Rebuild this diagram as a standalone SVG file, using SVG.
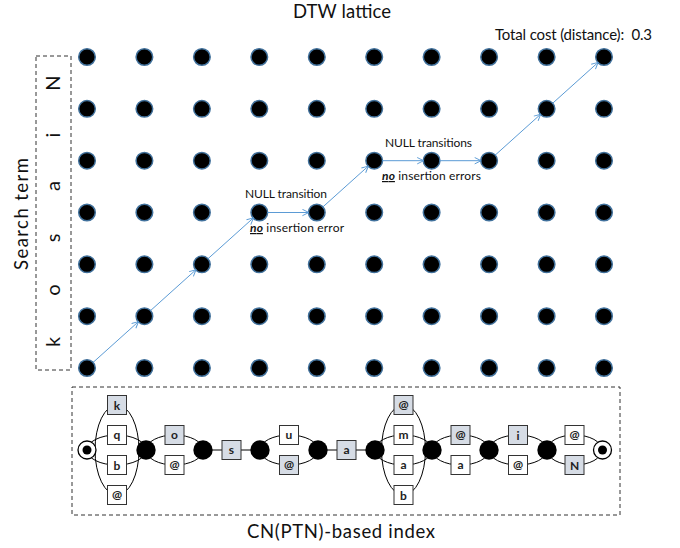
<svg xmlns="http://www.w3.org/2000/svg" width="680" height="548" viewBox="0 0 680 548">
<defs>
<style>
text{font-family:Lato,"Open Sans","Liberation Sans",sans-serif;fill:#111}
.dot{fill:#000;stroke:#41719c;stroke-width:1.5}
.path{stroke:#5b9bd5;stroke-width:1;fill:none;marker-end:url(#arr)}
.dash{fill:none;stroke:#333;stroke-width:1;stroke-dasharray:4,3}
.arc{fill:none;stroke:#000;stroke-width:1}
.bx{fill:#fff;stroke:#333;stroke-width:1}
.hl{fill:#d6dce5;stroke:#333;stroke-width:1}
.bt{font-size:12px;font-weight:bold;text-anchor:middle;fill:#222}
.nd{fill:#000}
.lbl{font-size:12px}
.big{font-size:18.5px;text-anchor:middle}
.let{font-size:20px;text-anchor:middle}
.no{font-weight:bold;font-style:italic;text-decoration:underline}
</style>
<marker id="arr" viewBox="0 0 10 10" refX="9" refY="5" markerWidth="8" markerHeight="8" orient="auto" markerUnits="userSpaceOnUse">
<path d="M1,1 L9,5 L1,9" fill="none" stroke="#5b9bd5" stroke-width="1.2"/>
</marker>
</defs>
<rect width="680" height="548" fill="#fff"/>

<text class="big" x="342" y="18" textLength="98">DTW lattice</text>
<text x="495" y="40" font-size="15" textLength="157" style="white-space:pre">Total cost (distance):  0.3</text>
<text class="big" x="341" y="538" textLength="188">CN(PTN)-based index</text>

<g id="search-term">
<rect class="dash" x="36" y="56" width="35" height="314"/>
<text class="big" transform="translate(28,214) rotate(-90)" textLength="112">Search term</text>
<text class="let" transform="translate(60,342) rotate(-90)">k</text>
<text class="let" transform="translate(60,290) rotate(-90)">o</text>
<text class="let" transform="translate(60,238) rotate(-90)">s</text>
<text class="let" transform="translate(60,186) rotate(-90)">a</text>
<text class="let" transform="translate(60,135) rotate(-90)">i</text>
<text class="let" transform="translate(60,83) rotate(-90)">N</text>
</g>

<g id="lattice">
<g id="row1"><circle class="dot" cx="87" cy="57" r="8.3"/><circle class="dot" cx="144.4" cy="57" r="8.3"/><circle class="dot" cx="201.9" cy="57" r="8.3"/><circle class="dot" cx="259.3" cy="57" r="8.3"/><circle class="dot" cx="316.8" cy="57" r="8.3"/><circle class="dot" cx="374.2" cy="57" r="8.3"/><circle class="dot" cx="431.6" cy="57" r="8.3"/><circle class="dot" cx="489.1" cy="57" r="8.3"/><circle class="dot" cx="546.6" cy="57" r="8.3"/><circle class="dot" cx="604" cy="57" r="8.3"/></g>
<g id="row2"><circle class="dot" cx="87" cy="108.8" r="8.3"/><circle class="dot" cx="144.4" cy="108.8" r="8.3"/><circle class="dot" cx="201.9" cy="108.8" r="8.3"/><circle class="dot" cx="259.3" cy="108.8" r="8.3"/><circle class="dot" cx="316.8" cy="108.8" r="8.3"/><circle class="dot" cx="374.2" cy="108.8" r="8.3"/><circle class="dot" cx="431.6" cy="108.8" r="8.3"/><circle class="dot" cx="489.1" cy="108.8" r="8.3"/><circle class="dot" cx="546.6" cy="108.8" r="8.3"/><circle class="dot" cx="604" cy="108.8" r="8.3"/></g>
<g id="row3"><circle class="dot" cx="87" cy="160.7" r="8.3"/><circle class="dot" cx="144.4" cy="160.7" r="8.3"/><circle class="dot" cx="201.9" cy="160.7" r="8.3"/><circle class="dot" cx="259.3" cy="160.7" r="8.3"/><circle class="dot" cx="316.8" cy="160.7" r="8.3"/><circle class="dot" cx="374.2" cy="160.7" r="8.3"/><circle class="dot" cx="431.6" cy="160.7" r="8.3"/><circle class="dot" cx="489.1" cy="160.7" r="8.3"/><circle class="dot" cx="546.6" cy="160.7" r="8.3"/><circle class="dot" cx="604" cy="160.7" r="8.3"/></g>
<g id="row4"><circle class="dot" cx="87" cy="212.5" r="8.3"/><circle class="dot" cx="144.4" cy="212.5" r="8.3"/><circle class="dot" cx="201.9" cy="212.5" r="8.3"/><circle class="dot" cx="259.3" cy="212.5" r="8.3"/><circle class="dot" cx="316.8" cy="212.5" r="8.3"/><circle class="dot" cx="374.2" cy="212.5" r="8.3"/><circle class="dot" cx="431.6" cy="212.5" r="8.3"/><circle class="dot" cx="489.1" cy="212.5" r="8.3"/><circle class="dot" cx="546.6" cy="212.5" r="8.3"/><circle class="dot" cx="604" cy="212.5" r="8.3"/></g>
<g id="row5"><circle class="dot" cx="87" cy="264.3" r="8.3"/><circle class="dot" cx="144.4" cy="264.3" r="8.3"/><circle class="dot" cx="201.9" cy="264.3" r="8.3"/><circle class="dot" cx="259.3" cy="264.3" r="8.3"/><circle class="dot" cx="316.8" cy="264.3" r="8.3"/><circle class="dot" cx="374.2" cy="264.3" r="8.3"/><circle class="dot" cx="431.6" cy="264.3" r="8.3"/><circle class="dot" cx="489.1" cy="264.3" r="8.3"/><circle class="dot" cx="546.6" cy="264.3" r="8.3"/><circle class="dot" cx="604" cy="264.3" r="8.3"/></g>
<g id="row6"><circle class="dot" cx="87" cy="316.2" r="8.3"/><circle class="dot" cx="144.4" cy="316.2" r="8.3"/><circle class="dot" cx="201.9" cy="316.2" r="8.3"/><circle class="dot" cx="259.3" cy="316.2" r="8.3"/><circle class="dot" cx="316.8" cy="316.2" r="8.3"/><circle class="dot" cx="374.2" cy="316.2" r="8.3"/><circle class="dot" cx="431.6" cy="316.2" r="8.3"/><circle class="dot" cx="489.1" cy="316.2" r="8.3"/><circle class="dot" cx="546.6" cy="316.2" r="8.3"/><circle class="dot" cx="604" cy="316.2" r="8.3"/></g>
<g id="row7"><circle class="dot" cx="87" cy="368" r="8.3"/><circle class="dot" cx="144.4" cy="368" r="8.3"/><circle class="dot" cx="201.9" cy="368" r="8.3"/><circle class="dot" cx="259.3" cy="368" r="8.3"/><circle class="dot" cx="316.8" cy="368" r="8.3"/><circle class="dot" cx="374.2" cy="368" r="8.3"/><circle class="dot" cx="431.6" cy="368" r="8.3"/><circle class="dot" cx="489.1" cy="368" r="8.3"/><circle class="dot" cx="546.6" cy="368" r="8.3"/><circle class="dot" cx="604" cy="368" r="8.3"/></g>
</g>

<g id="dtw-path">
<line class="path" x1="92.9" y1="362.6" x2="138.5" y2="321.6"/>
<line class="path" x1="150.3" y1="310.8" x2="196.0" y2="269.7"/>
<line class="path" x1="207.8" y1="258.9" x2="253.4" y2="217.9"/>
<line class="path" x1="267.3" y1="212.5" x2="308.8" y2="212.5"/>
<line class="path" x1="322.7" y1="207.1" x2="368.3" y2="166.1"/>
<line class="path" x1="382.2" y1="160.7" x2="423.6" y2="160.7"/>
<line class="path" x1="439.6" y1="160.7" x2="481.1" y2="160.7"/>
<line class="path" x1="495.0" y1="155.3" x2="540.7" y2="114.2"/>
<line class="path" x1="552.5" y1="103.4" x2="598.1" y2="62.4"/>
</g>

<g id="annotations">
<text class="lbl" x="245" y="198" textLength="82">NULL transition</text>
<text class="lbl" x="250" y="232" textLength="94"><tspan class="no">no</tspan> insertion error</text>
<text class="lbl" x="385" y="147" textLength="87">NULL transitions</text>
<text class="lbl" x="382" y="180" textLength="99"><tspan class="no">no</tspan> insertion errors</text>
</g>

<g id="cn-index">
<rect class="dash" x="72" y="387" width="548" height="128"/>
<g id="cn-connectors">
<ellipse class="arc" cx="116.5" cy="450" rx="29.5" ry="15"/>
<ellipse class="arc" cx="117" cy="450" rx="22" ry="45"/>
<ellipse class="arc" cx="174.5" cy="450" rx="28.5" ry="15"/>
<line class="arc" x1="203" y1="450" x2="260" y2="450"/>
<ellipse class="arc" cx="289" cy="450" rx="29" ry="15"/>
<line class="arc" x1="318" y1="450" x2="375" y2="450"/>
<ellipse class="arc" cx="403.5" cy="450" rx="28.5" ry="15"/>
<ellipse class="arc" cx="403.5" cy="450" rx="22" ry="45"/>
<ellipse class="arc" cx="460.5" cy="450" rx="28.5" ry="15"/>
<ellipse class="arc" cx="518" cy="450" rx="29" ry="15"/>
<ellipse class="arc" cx="574.5" cy="450" rx="27.5" ry="15"/>
</g>
<g id="n-start"><circle cx="87" cy="450" r="9" fill="#fff" stroke="#000" stroke-width="1.3"/><circle class="nd" cx="87" cy="450" r="4.5"/></g>
<g id="n1"><circle class="nd" cx="146" cy="450" r="9.7"/></g>
<g id="n2"><circle class="nd" cx="203" cy="450" r="9.7"/></g>
<g id="n3"><circle class="nd" cx="260" cy="450" r="9.7"/></g>
<g id="n4"><circle class="nd" cx="318" cy="450" r="9.7"/></g>
<g id="n5"><circle class="nd" cx="375" cy="450" r="9.7"/></g>
<g id="n6"><circle class="nd" cx="432" cy="450" r="9.7"/></g>
<g id="n7"><circle class="nd" cx="489" cy="450" r="9.7"/></g>
<g id="n8"><circle class="nd" cx="547" cy="450" r="9.7"/></g>
<g id="n-end"><circle cx="602.5" cy="450" r="9" fill="#fff" stroke="#000" stroke-width="1.3"/><circle class="nd" cx="602.5" cy="450" r="4.5"/></g>

<g id="b-k"><rect class="hl" x="107.5" y="395.5" width="19" height="19"/><text class="bt" x="117" y="409.5">k</text></g>
<g id="b-q"><rect class="bx" x="107.5" y="425.5" width="19" height="19"/><text class="bt" x="117" y="439">q</text></g>
<g id="b-b1"><rect class="bx" x="107.5" y="455.5" width="19" height="19"/><text class="bt" x="117" y="469.5">b</text></g>
<g id="b-at1"><rect class="bx" x="107.5" y="485.5" width="19" height="19"/><text class="bt" x="117" y="499">@</text></g>
<g id="b-o"><rect class="hl" x="165" y="425.5" width="19" height="19"/><text class="bt" x="174.5" y="439">o</text></g>
<g id="b-at2"><rect class="bx" x="165" y="455.5" width="19" height="19"/><text class="bt" x="174.5" y="469">@</text></g>
<g id="b-s"><rect class="hl" x="222" y="440.5" width="19" height="19"/><text class="bt" x="231.5" y="454">s</text></g>
<g id="b-u"><rect class="bx" x="279.5" y="425.5" width="19" height="19"/><text class="bt" x="289" y="439">u</text></g>
<g id="b-at3"><rect class="hl" x="279.5" y="455.5" width="19" height="19"/><text class="bt" x="289" y="469">@</text></g>
<g id="b-a1"><rect class="hl" x="337" y="440.5" width="19" height="19"/><text class="bt" x="346.5" y="454">a</text></g>
<g id="b-at4"><rect class="hl" x="394" y="395.5" width="19" height="19"/><text class="bt" x="403.5" y="409">@</text></g>
<g id="b-m"><rect class="bx" x="394" y="425.5" width="19" height="19"/><text class="bt" x="403.5" y="439">m</text></g>
<g id="b-a2"><rect class="bx" x="394" y="455.5" width="19" height="19"/><text class="bt" x="403.5" y="469">a</text></g>
<g id="b-b2"><rect class="bx" x="394" y="485.5" width="19" height="19"/><text class="bt" x="403.5" y="499.5">b</text></g>
<g id="b-at5"><rect class="hl" x="451" y="425.5" width="19" height="19"/><text class="bt" x="460.5" y="439">@</text></g>
<g id="b-a3"><rect class="bx" x="451" y="455.5" width="19" height="19"/><text class="bt" x="460.5" y="469">a</text></g>
<g id="b-i"><rect class="hl" x="508.5" y="425.5" width="19" height="19"/><text class="bt" x="518" y="439.5">i</text></g>
<g id="b-at6"><rect class="bx" x="508.5" y="455.5" width="19" height="19"/><text class="bt" x="518" y="469">@</text></g>
<g id="b-at7"><rect class="bx" x="565" y="425.5" width="19" height="19"/><text class="bt" x="574.5" y="439">@</text></g>
<g id="b-N"><rect class="hl" x="565" y="455.5" width="19" height="19"/><text class="bt" x="574.5" y="469.5">N</text></g>
</g>
</svg>
